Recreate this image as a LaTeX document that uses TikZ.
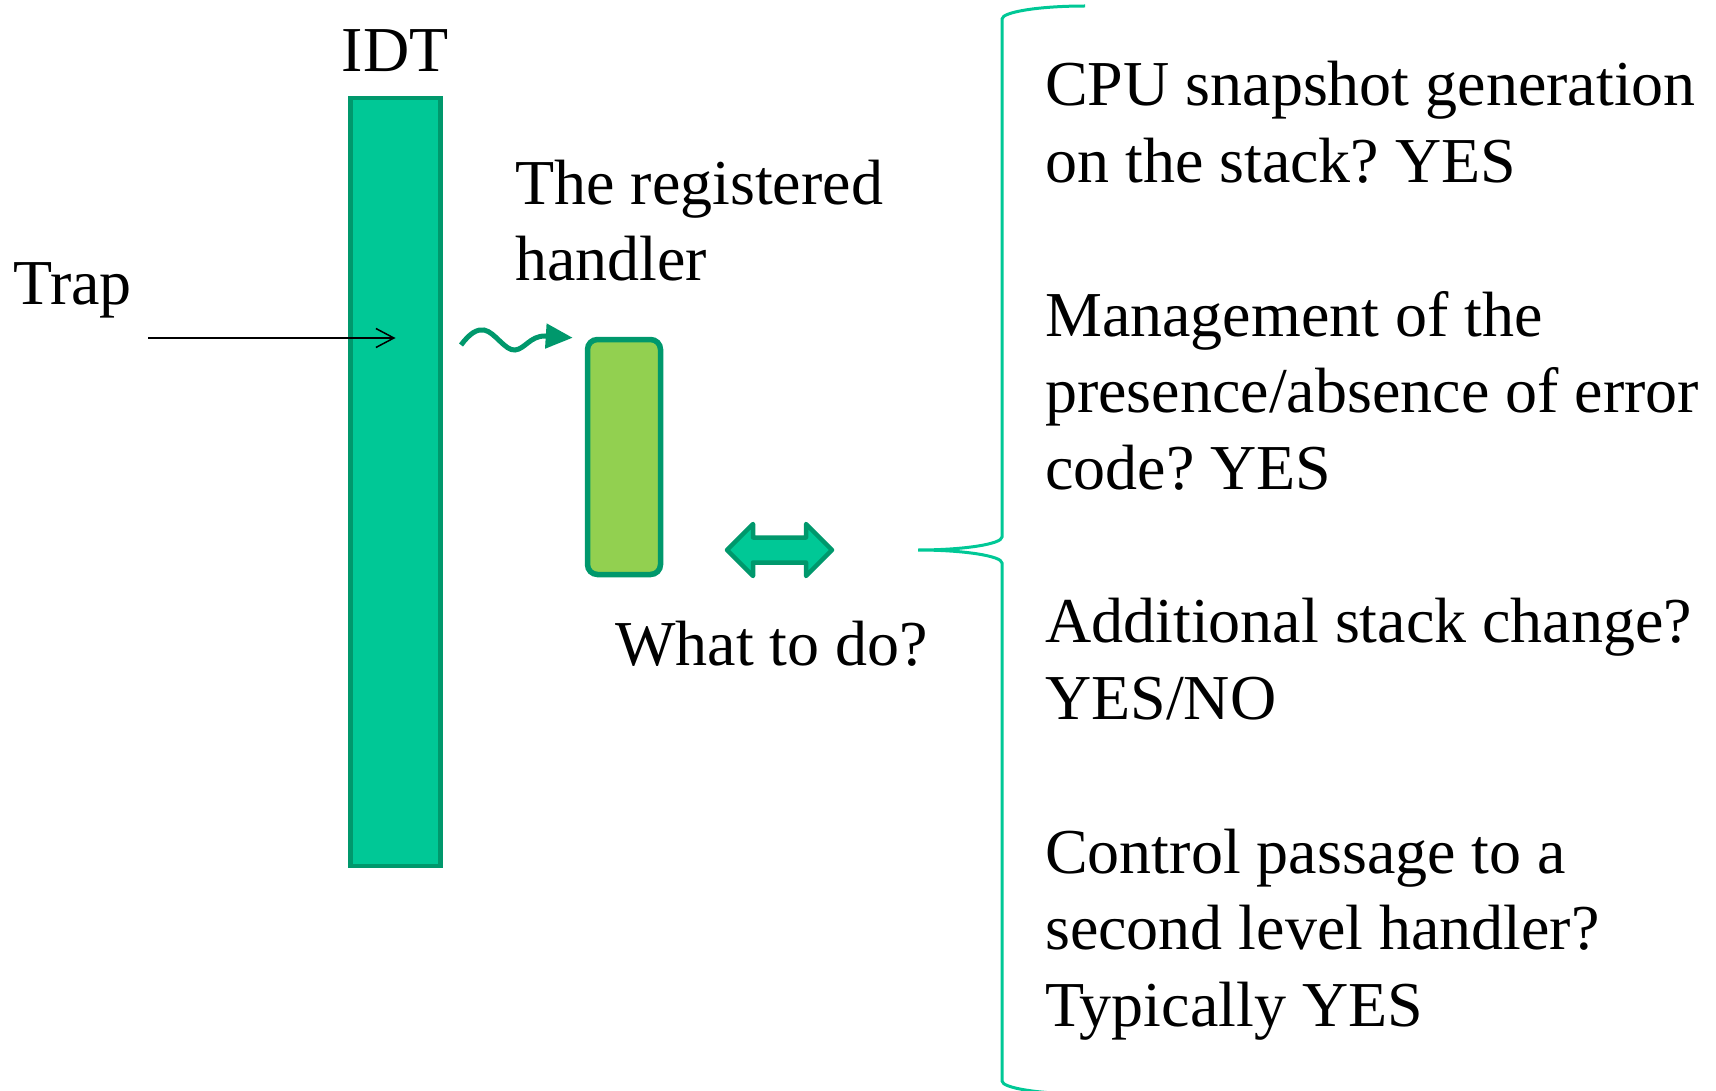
\documentclass[tikz,border=0pt]{standalone}
\usepackage{fontspec}
\setmainfont{Liberation Serif}
\frenchspacing
\usetikzlibrary{arrows.meta,calc,positioning}

\definecolor{idtgreen}{RGB}{0,200,150}
\definecolor{darkgreen}{RGB}{0,152,108}
\definecolor{handlergreen}{RGB}{146,208,80}

\tikzset{
	lbl/.style={inner sep=0pt, anchor=base west, align=left, font=\fontsize{64}{76.7}\selectfont},
	box/.style={draw=darkgreen, inner sep=0pt},
}

\begin{document}
\begin{tikzpicture}[x=1pt, y=-1pt]
		%%%%% START %%%%%
		\useasboundingbox (0,0) rectangle (1716,1091);
		
		% IDT column and the trap coming in
		\node[box, fill=idtgreen, line width=4.5pt, minimum width=90pt, minimum height=768pt] (idt) at (395.5,482) {};
		\node[lbl, anchor=base] (idtlabel) at (395,72) {IDT};
		\node[lbl] (trap) at (13,305) {Trap};
		\coordinate (trapstart) at (148,338);
		\draw[line width=1.5pt, -{Straight Barb[length=18pt,width=19pt]}] (trapstart) -- (trapstart -| idt.center);
		
		% registered handler (base = last line)
		\node[box, fill=handlergreen, line width=5.5pt, rounded corners=10pt, minimum width=73pt, minimum height=235pt] (handler) at (624,457) {};
		\node[lbl] (handlerlabel) at (515,281) {The registered\\handler};
		\coordinate (wavestart) at (461,345);
		\coordinate (wavetip) at ($(handler.north west)+(-12,1)$);
		\draw[darkgreen, line width=5pt, -{Triangle[length=27pt,width=24pt]}] (wavestart) .. controls (470,333) and (477,329) .. (484,330) .. controls (495,332) and (505,351) .. (515,350) .. controls (525,349) and (530,336) .. (545,336) -- (wavetip);
		
		% what to do
		\coordinate (todo) at (779.5,550);
		\draw[box, fill=idtgreen, line width=4.5pt, line join=round, shift={(todo)}] (-52.5,0) -- (-26.5,-26) -- (-26.5,-12.5) -- (26.5,-12.5) -- (26.5,-26) -- (52.5,0) -- (26.5,26) -- (26.5,12.5) -- (-26.5,12.5) -- (-26.5,26) -- cycle;
		\node[lbl] (todolabel) at (615,665) {What to do?};
		
		% brace
		\draw[idtgreen, line width=3pt] (1085,6) .. controls (1039,6) and (1002,12) .. (1002,19) -- (1002,537) .. controls (1002,544) and (964,550) .. (918,550) .. controls (964,550) and (1002,556) .. (1002,563) -- (1002,1081) .. controls (1002,1088) and (1039,1094) .. (1085,1094);
		
		\node[lbl] (snapshot) at (1045,182.7) {CPU snapshot generation\\on the stack? YES};
		\node[lbl] (errcode) at (1045,489.5) {Management of the\\presence/absence of error\\code? YES};
		\node[lbl] (stackchg) at (1045,719.6) {Additional stack change?\\YES/NO};
		\node[lbl] (second) at (1045,1026.4) {Control passage to a\\second level handler?\\Typically YES};
		
		%%%%% END %%%%%
\end{tikzpicture}
\end{document}
